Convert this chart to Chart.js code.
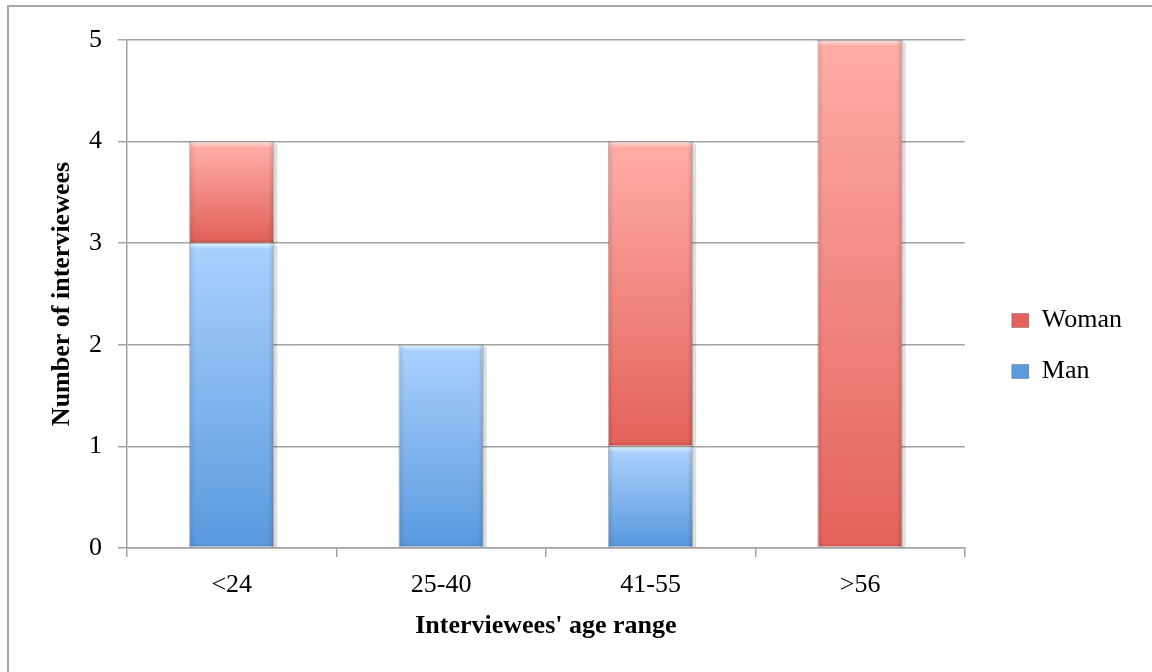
<!DOCTYPE html>
<html>
<head>
<meta charset="utf-8">
<script src="https://cdn.jsdelivr.net/npm/chart.js@4.4.1/dist/chart.umd.min.js"></script>
<style>
  html, body { margin: 0; padding: 0; background: #fff; overflow: hidden; }
  #wrap { position: relative; width: 1152px; height: 672px; }
  #frame { position: absolute; left: 7px; top: 5px; width: 1200px; height: 700px;
           border-top: 2px solid #a6a6a6; border-left: 2px solid #a6a6a6; }
  canvas { position: absolute; left: 0; top: 0; }
</style>
</head>
<body>
<div id="wrap"><div id="frame"></div><canvas id="chart" width="1152" height="672"></canvas></div>
<script>
const ageRanges = ['<24', '25-40', '41-55', '>56'];
const men = [3, 2, 1, 0];
const women = [1, 0, 3, 5];
const yMin = 0, yMax = 5, yStep = 1;

const FONT = '"Liberation Serif", "Times New Roman", serif';
const FS = 26;
const GRID = '#a3a3a3';

// colour ramps: highlight, light top, dark bottom, bottom edge
const manRamp = ['#e2f4ff', '#a9d0fc', '#5b9ade', '#4b86ca'];
const womanRamp = ['#ffdedb', '#ffaca7', '#e3635c', '#c9504a'];

function segmentFill(ramp, lowVals, highVals) {
  return (c) => {
    const flat = ramp[2];
    if (c.type !== 'data' || !c.chart.chartArea) return flat;
    const y = c.chart.scales.y;
    const i = c.dataIndex;
    const lo = lowVals ? lowVals[i] : 0;
    const top = y.getPixelForValue(lo + highVals[i]);
    const bot = y.getPixelForValue(lo);
    const h = bot - top;
    if (h < 2) return flat;
    const g = c.chart.ctx.createLinearGradient(0, top, 0, bot);
    g.addColorStop(0, ramp[0]);
    g.addColorStop(Math.min(0.4, 6 / h), ramp[1]);
    g.addColorStop(Math.max(0.6, 1 - 5 / h), ramp[2]);
    g.addColorStop(1, ramp[3]);
    return g;
  };
}

// soft shadow + darker side edges, like the office bevel look
const barShade = {
  id: 'barShade',
  beforeDatasetsDraw(chart) {
    const ctx = chart.ctx;
    ctx.save();
    chart.getSortedVisibleDatasetMetas().forEach(meta => {
      meta.data.forEach(bar => {
        const {x, y, base, width} = bar.getProps(['x', 'y', 'base', 'width'], true);
        if (base - y < 1) return;
        ctx.fillStyle = 'rgba(0,0,0,0.13)';
        ctx.fillRect(x + width / 2, y + 2, 3, base - y - 2);
      });
    });
    ctx.restore();
  },
  afterDatasetsDraw(chart) {
    const ctx = chart.ctx;
    ctx.save();
    chart.getSortedVisibleDatasetMetas().forEach(meta => {
      meta.data.forEach(bar => {
        const {x, y, base, width} = bar.getProps(['x', 'y', 'base', 'width'], true);
        const h = base - y;
        if (h < 1) return;
        const left = x - width / 2;
        const g = ctx.createLinearGradient(left, 0, left + width, 0);
        g.addColorStop(0, 'rgba(0,0,0,0.12)');
        g.addColorStop(0.07, 'rgba(0,0,0,0)');
        g.addColorStop(0.93, 'rgba(0,0,0,0)');
        g.addColorStop(1, 'rgba(0,0,0,0.16)');
        ctx.fillStyle = g;
        ctx.fillRect(left, y, width, h);
      });
    });
    ctx.restore();
  }
};

// push the legend a bit to the right and up
const legendNudge = {
  id: 'legendNudge',
  afterLayout(chart) {
    const lg = chart.legend;
    lg.left += 22; lg.right += 22;
    lg.top -= 10; lg.bottom -= 10;
  }
};

new Chart(document.getElementById('chart'), {
  type: 'bar',
  data: {
    labels: ageRanges,
    datasets: [
      {
        label: 'Man',
        data: men,
        backgroundColor: segmentFill(manRamp, null, men),
        borderColor: 'rgba(60,60,60,0.25)',
        borderWidth: 1,
        borderSkipped: false,
        categoryPercentage: 1,
        barPercentage: 0.407
      },
      {
        label: 'Woman',
        data: women,
        backgroundColor: segmentFill(womanRamp, men, women),
        borderColor: 'rgba(60,60,60,0.25)',
        borderWidth: 1,
        borderSkipped: false,
        categoryPercentage: 1,
        barPercentage: 0.407
      }
    ]
  },
  options: {
    responsive: false,
    animation: false,
    layout: { padding: { top: 40, right: 42, bottom: 0, left: 0 } },
    plugins: {
      tooltip: { enabled: false },
      legend: {
        position: 'right',
        reverse: true,
        labels: {
          color: '#000',
          font: { family: FONT, size: FS },
          boxWidth: 17,
          boxHeight: 14,
          padding: 25,
          generateLabels(chart) {
            const ramps = [manRamp, womanRamp];
            return chart.data.datasets.map((ds, i) => ({
              text: ds.label,
              fillStyle: ramps[i][2],
              strokeStyle: 'rgba(60,60,60,0.3)',
              lineWidth: 1,
              fontColor: '#000',
              datasetIndex: i,
              hidden: false
            }));
          }
        }
      }
    },
    scales: {
      x: {
        stacked: true,
        afterFit(scale) { scale.height = 124; },
        grid: { drawOnChartArea: false, drawTicks: true, tickLength: 9, color: GRID, lineWidth: 1.5 },
        border: { display: true, color: GRID, width: 1.5 },
        ticks: { color: '#000', font: { family: FONT, size: FS }, padding: 13 },
        title: {
          display: true,
          text: "Interviewees' age range",
          color: '#000',
          font: { family: FONT, size: FS, weight: 'bold' },
          padding: { top: 0, bottom: 30 }
        }
      },
      y: {
        stacked: true,
        min: yMin,
        max: yMax,
        afterFit(scale) { scale.width = 127; },
        grid: { color: GRID, lineWidth: 1.5, tickLength: 9 },
        border: { display: true, color: GRID, width: 1.5 },
        ticks: { stepSize: yStep, color: '#000', font: { family: FONT, size: FS }, padding: 16 },
        title: {
          display: true,
          text: 'Number of interviewees',
          color: '#000',
          font: { family: FONT, size: FS, weight: 'bold' },
          padding: { top: 47, bottom: 0 }
        }
      }
    }
  },
  plugins: [barShade, legendNudge]
});
</script>
</body>
</html>
